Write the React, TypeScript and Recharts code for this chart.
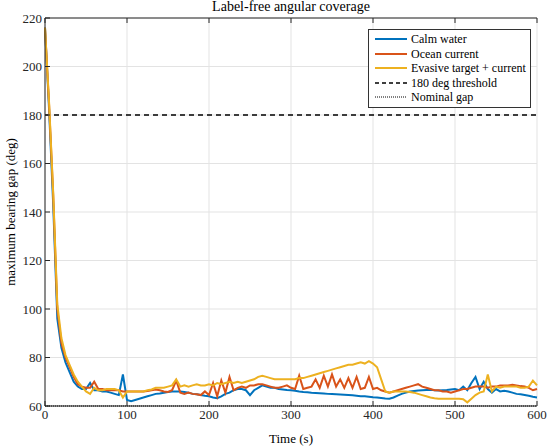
import React from 'react';
import {
  LineChart, Line, XAxis, YAxis, CartesianGrid, ReferenceLine,
} from 'recharts';

// time grid, 5 s step
const TIME_STEP = 5;
const TIME_END = 600;

const calmWater = [
  216, 182, 143, 96, 84, 78, 74, 70, 68, 67,
  67, 69.5, 66.5, 66.5, 66, 66, 65.5, 65, 64.5, 73,
  62.5, 62, 62.5, 63, 63.5, 64, 64.5, 65, 65.2, 65.5,
  65.8, 66, 66, 66, 65.8, 65.5, 65, 64.8, 64.5, 64.2,
  64, 63.5, 63.2, 64, 65, 65.5, 66.5, 67, 67, 66.5,
  64.5, 66.5, 67.5, 68.5, 68, 67.5, 67.5, 67, 66.8, 66.6,
  66.5, 66.3, 66, 65.8, 65.7, 65.5, 65.4, 65.3, 65.2, 65,
  64.9, 64.8, 64.7, 64.6, 64.5, 64.4, 64.2, 64, 64, 63.8,
  63.6, 63.5, 63.3, 63.1, 63, 63.5, 64.3, 65, 65.5, 66,
  66.2, 66.4, 66.5, 66.6, 66.7, 66.5, 66.4, 66.5, 66.6, 66.8,
  67, 66.5, 68, 66.5, 69.5, 72, 67, 70, 67, 65.5,
  67, 66, 66.3, 66, 65.5, 65, 64.8, 64.5, 64.2, 63.8,
  63.5,
];

const oceanCurrent = [
  216, 184, 147, 100, 86, 80, 76, 72, 69, 68,
  67.5, 67.5, 70, 67, 67, 66.5, 66.5, 66.5, 66.5, 66,
  66, 66, 66, 66, 66, 66.2, 66.5, 66.8, 66.5, 66,
  65.8, 66.5, 70.5, 65.5, 65, 65.5, 65, 64.8, 64.5, 66,
  64.5, 69.5, 64, 70.5, 65.5, 72, 66.5, 67.5, 68, 67.5,
  68.5, 68.5, 69, 69, 68.5, 68, 67.5, 67.5, 68, 68.5,
  67.5, 67, 72.5, 67, 67.5, 68, 71, 67.5, 72.5, 68,
  73, 68, 71, 67.5, 71.5, 67.5, 72, 67, 67.5, 72,
  67, 67.5, 66.5, 66, 65.5, 66, 66.5, 67, 67.5, 68,
  68.5, 69, 68, 67.5, 67, 66.5, 66.5, 66, 66, 65.5,
  66, 66.5, 67, 67, 67.5, 68, 68, 68, 67.5, 68,
  68, 68.5, 68.5, 68.5, 68.8, 68.5, 68.2, 68, 67.5, 66.5,
  67,
];

const evasiveTarget = [
  216, 185, 148, 102, 88, 81, 77, 73, 70, 68,
  66, 65, 67.5, 66.5, 66.5, 67, 67, 67, 66.5, 63.5,
  66, 66, 66, 66, 66, 66.5, 66.8, 67.5, 67.5, 67.5,
  68, 68.5, 71, 68, 68.5, 68, 68.5, 69, 68.5, 68.5,
  69, 68.5, 69.5, 69, 69.5, 70, 69.5, 70, 69.5, 70,
  70.5, 71, 72, 72.5, 72, 71.5, 71, 71, 71, 71,
  71, 71, 71.5, 71.5, 72, 72.5, 73, 73.5, 74, 74.5,
  75, 75.5, 76, 76.5, 77, 77, 77.5, 78, 77.5, 78.5,
  77.5, 76, 71, 66, 65.5, 66, 66, 66, 66, 65.8,
  65.5, 65, 64.5, 64, 63.5, 63.2, 63, 63, 63, 63,
  63, 63, 62.8, 61.5, 63, 64.5, 65.5, 66, 73, 66,
  68, 67.5, 68, 68, 68, 68, 67.5, 67.5, 68, 70.5,
  68.5,
];

const THRESHOLD = 180;
const NOMINAL_GAP = 60;

const xTicks = [0, 100, 200, 300, 400, 500, 600];
const yTicks = [60, 80, 100, 120, 140, 160, 180, 200, 220];

const series = [
  { key: 'calm', name: 'Calm water', values: calmWater, color: '#0072BD' },
  { key: 'ocean', name: 'Ocean current', values: oceanCurrent, color: '#D95319' },
  { key: 'evasive', name: 'Evasive target + current', values: evasiveTarget, color: '#EDB120' },
];

const chartData = Array.from({ length: TIME_END / TIME_STEP + 1 }, (_, i) => {
  const row: Record<string, number> = { t: i * TIME_STEP };
  series.forEach(s => { row[s.key] = s.values[i]; });
  return row;
});

const FONT = 'Liberation Serif';
const tickStyle = { fontSize: 13, fill: '#262626', fontFamily: FONT };

const legendItems = [
  ...series.map(s => ({ name: s.name, color: s.color, dash: undefined as string | undefined, width: 2 })),
  { name: '180 deg threshold', color: '#000', dash: '4 3', width: 1.5 },
  { name: 'Nominal gap', color: '#000', dash: '1 1', width: 1 },
];

const LegendBox = () => (
  <div
    style={{
      position: 'absolute',
      left: 368,
      top: 29,
      border: '1px solid #333',
      background: '#fff',
      padding: '2px 4px 2px 6px',
      fontFamily: FONT,
      fontSize: 12,
      lineHeight: '14.5px',
      color: '#000',
    }}
  >
    {legendItems.map(item => (
      <div key={item.name} style={{ display: 'flex', alignItems: 'center', whiteSpace: 'nowrap' }}>
        <svg width={32} height={10} style={{ marginRight: 4 }}>
          <line x1={0} x2={32} y1={5} y2={5} stroke={item.color} strokeWidth={item.width} strokeDasharray={item.dash} />
        </svg>
        <span>{item.name}</span>
      </div>
    ))}
  </div>
);

const App: React.FC = () => (
  <div style={{ position: 'absolute', left: 0, top: 0, width: 550, height: 447, background: '#fff', fontFamily: FONT }}>
    <LineChart width={550} height={447} data={chartData} margin={{ top: 0, right: 13, bottom: 16, left: 0 }}>
      <CartesianGrid stroke="#e3e3e3" strokeWidth={1} horizontalValues={yTicks} verticalValues={xTicks} />
      <XAxis
        xAxisId="top"
        orientation="top"
        dataKey="t"
        type="number"
        domain={[0, 600]}
        ticks={xTicks}
        height={18}
        tick={() => <g />}
        tickSize={-5}
        stroke="#262626"
        label={{ value: 'Label-free angular coverage', position: 'insideTop', offset: 1, fontFamily: FONT, fontSize: 14, fill: '#000' }}
      />
      <XAxis
        dataKey="t"
        type="number"
        domain={[0, 600]}
        ticks={xTicks}
        height={25}
        tick={tickStyle}
        tickSize={-5}
        tickMargin={9}
        stroke="#262626"
        label={{ value: 'Time (s)', position: 'insideBottom', offset: -12, fontFamily: FONT, fontSize: 13, fill: '#000' }}
      />
      <YAxis
        domain={[60, 220]}
        ticks={yTicks}
        width={45}
        tick={tickStyle}
        tickSize={-5}
        tickMargin={8}
        stroke="#262626"
        allowDataOverflow
        label={{ value: 'maximum bearing gap (deg)', angle: -90, position: 'insideLeft', offset: 10, fontFamily: FONT, fontSize: 13, fill: '#000', textAnchor: 'middle' }}
      />
      <YAxis
        yAxisId="right"
        orientation="right"
        domain={[60, 220]}
        ticks={yTicks}
        width={0}
        tick={() => <g />}
        tickSize={-5}
        stroke="#262626"
      />
      <ReferenceLine y={THRESHOLD} stroke="#000" strokeWidth={1.5} strokeDasharray="5 4" />
      <ReferenceLine y={NOMINAL_GAP} stroke="#000" strokeWidth={1} strokeDasharray="1 1" />
      {series.map(s => (
        <Line
          key={s.key}
          dataKey={s.key}
          name={s.name}
          stroke={s.color}
          strokeWidth={2}
          dot={false}
          type="linear"
          isAnimationActive={false}
        />
      ))}
    </LineChart>
    <LegendBox />
  </div>
);

export default App;
